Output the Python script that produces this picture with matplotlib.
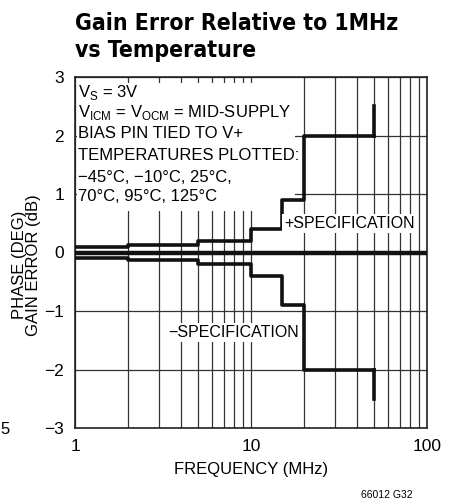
import matplotlib.pyplot as plt
from matplotlib.patches import Rectangle

plt.rcParams['font.family'] = ['Liberation Sans', 'DejaVu Sans']

# spec limits (dB) as step functions of frequency (MHz)
spec_freq = [1, 2, 5, 10, 15, 20, 50]
spec_upper = [0.1, 0.125, 0.2, 0.4, 0.9, 2.0, 2.0]
spec_lower = [-0.1, -0.125, -0.2, -0.4, -0.9, -2.0, -2.0]
spec_end = [2.5, -2.5]

# measured gain error, all temperatures on top of each other
freq = [1, 100]
gain_err = [0.0, 0.0]

fig = plt.figure(figsize=(4.56, 5), dpi=100)
ax = fig.add_axes([0.1645, 0.144, 0.7715, 0.702])

ax.set_xscale('log')
ax.set_xlim(1, 100)
ax.set_ylim(-3, 3)
ax.set_yticks([-3, -2, -1, 0, 1, 2, 3])
ax.set_yticklabels(['\u22123', '\u22122', '\u22121', '0', '1', '2', '3'])
ax.set_xticks([1, 10, 100])
ax.set_xticklabels(['1', '10', '100'])
ax.tick_params(which='both', length=0, labelsize=12.5, pad=8)
ax.grid(True, which='both', color='#333333', linewidth=0.9)
ax.set_axisbelow(True)
for s in ax.spines.values():
    s.set_linewidth(1.2)
    s.set_color('#222222')

ax.step(spec_freq, spec_upper, where='post', color='#111111', linewidth=2.6, zorder=4)
ax.step(spec_freq, spec_lower, where='post', color='#111111', linewidth=2.6, zorder=4)
ax.plot([50, 50], [2.0, spec_end[0]], color='#111111', linewidth=2.6, zorder=4)
ax.plot([50, 50], [-2.0, spec_end[1]], color='#111111', linewidth=2.6, zorder=4)
ax.plot(freq, gain_err, color='#111111', linewidth=3.2, zorder=5)

# white block behind the conditions text
ax.add_patch(Rectangle((0.006, 0.618), 0.619, 0.365, transform=ax.transAxes,
                       facecolor='white', edgecolor='none', zorder=1.5))

bb = dict(facecolor='white', edgecolor='none', pad=1.5)
cond = ['V$_\\mathregular{S}$ = 3V',
        'V$_\\mathregular{ICM}$ = V$_\\mathregular{OCM}$ = MID-SUPPLY',
        'BIAS PIN TIED TO V+',
        'TEMPERATURES PLOTTED:',
        '\u221245\u00b0C, \u221210\u00b0C, 25\u00b0C,',
        '70\u00b0C, 95\u00b0C, 125\u00b0C']
cond_y = [2.74, 2.40, 2.03, 1.65, 1.29, 0.95]
for txt, yy in zip(cond, cond_y):
    ax.text(1.04, yy, txt, fontsize=12, va='center', zorder=6)

ax.text(15.5, 0.49, '+SPECIFICATION', fontsize=11.5, va='center', bbox=bb, zorder=6)
ax.text(3.4, -1.37, '\u2212SPECIFICATION', fontsize=11.5, va='center', bbox=bb, zorder=6)

ax.set_xlabel('FREQUENCY (MHz)', fontsize=12, labelpad=6)
fig.text(0.058, 0.47, 'PHASE (DEG)\nGAIN ERROR (dB)', rotation=90, fontsize=12,
         ha='center', va='center', multialignment='center', linespacing=0.95)
fig.text(0.0, 0.14, '5', fontsize=12, ha='left', va='center')

fig.text(0.1645, 0.976, 'Gain Error Relative to 1MHz\nvs Temperature', fontsize=16.5,
         family='DejaVu Sans', fontstretch='condensed',
         fontweight='bold', ha='left', va='top', linespacing=1.2)
fig.text(0.905, 0.0, '66012 G32', fontsize=7.5, ha='right', va='bottom')

plt.savefig('out.png', dpi=100)
